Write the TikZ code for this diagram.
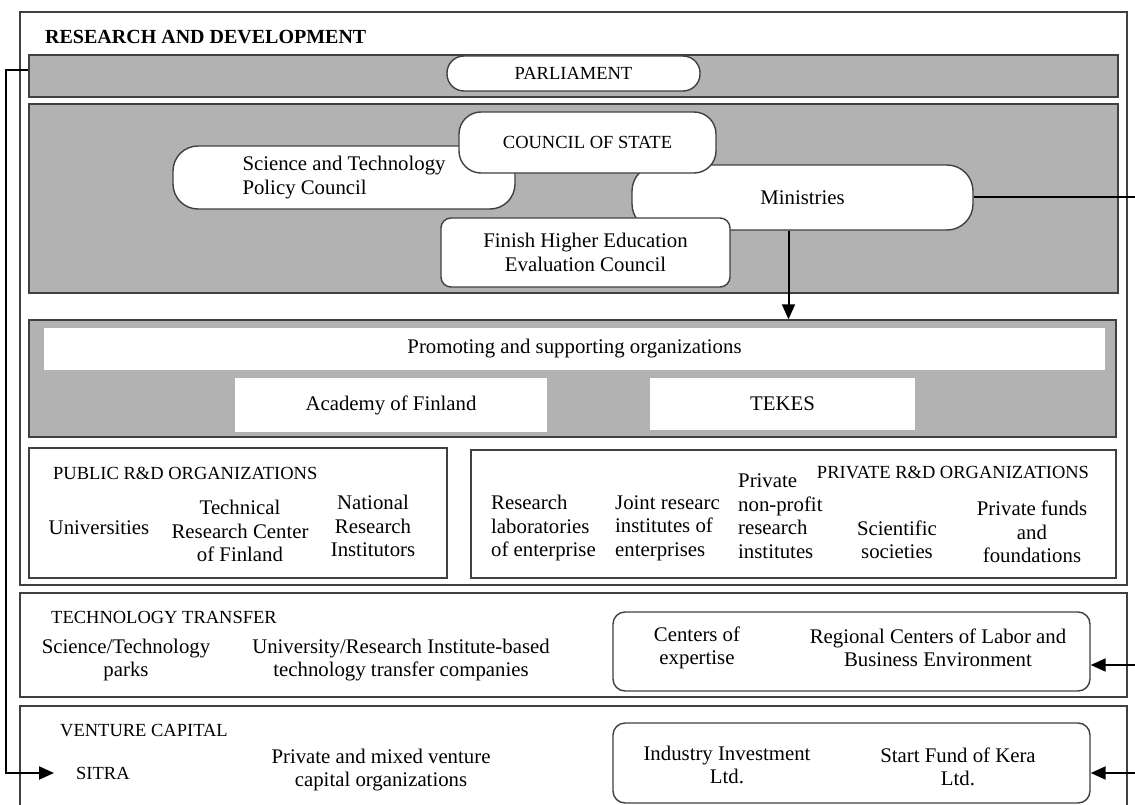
\documentclass[tikz,border=0pt]{standalone}
\usepackage{fontspec}
\setmainfont{Liberation Serif}
\usetikzlibrary{arrows.meta}

\begin{document}
\begin{tikzpicture}[x=1pt,y=-1pt,
  boxframe/.style={draw=black!75,line width=1.4pt,inner sep=0pt},
  band/.style={boxframe,fill=black!30},
  pill/.style={boxframe,fill=white,rounded corners=#1},
  strip/.style={fill=white,inner sep=0pt},
  txt/.style={font=\fontsize{20.8}{23.5}\selectfont,align=center,inner sep=0pt},
  caps/.style={font=\fontsize{18.5}{20}\selectfont,inner sep=0pt},
  arr/.style={-{Triangle[length=15pt,width=13pt]},line width=2pt}]
  \useasboundingbox (0,0) rectangle (1135,805);
  \clip (0,0) rectangle (1135,805);
  \coordinate (redge) at (1135,0);

  \node[boxframe,minimum width=1107,minimum height=573] (rd) at (573.5,298.5) {};
  \node[txt,font=\fontsize{20}{23}\selectfont\bfseries,anchor=west] (rdtitle) at (45,37) {RESEARCH AND DEVELOPMENT};

  \node[band,minimum width=1089,minimum height=42] (pband) at (573.5,76) {};
  \node[pill=17pt,caps,minimum width=253,minimum height=35] (parl) at (573.5,73.5) {PARLIAMENT};

  \node[band,minimum width=1089,minimum height=189] (cband) at (573.5,198.5) {};
  \node[pill=25pt,txt,align=left,minimum width=342,minimum height=63] (stpc) at (344,177.5) {Science and Technology\\Policy Council};
  \node[pill=26pt,txt,minimum width=341,minimum height=65] (min) at (802.5,197.5) {Ministries};
  \node[pill=10pt,txt,minimum width=289,minimum height=69] (fhe) at (585.5,252.5) {Finish Higher Education\\Evaluation Council};
  \node[pill=22pt,caps,minimum width=257,minimum height=61] (cos) at (587.5,142.5) {COUNCIL OF STATE};

  \node[band,minimum width=1087,minimum height=117] (sband) at (572.5,378.5) {};
  \node[strip,txt,minimum width=1061,minimum height=42] (promo) at (574.5,349) {Promoting and supporting organizations};
  \node[strip,txt,minimum width=312,minimum height=54] (aof) at (391,405) {Academy of Finland};
  \node[strip,txt,minimum width=265,minimum height=52] (tekes) at (782.5,404) {TEKES};

  \node[boxframe,minimum width=418,minimum height=130] (pub) at (238,513) {};
  \node[caps,anchor=west] (publbl) at (53,473) {PUBLIC R\&D ORGANIZATIONS};
  \node[txt] (univ) at (99,528) {Universities};
  \node[txt] (trc) at (240,531) {Technical\\Research Center\\of Finland};
  \node[txt] (nri) at (373,526) {National\\Research\\Institutors};

  \node[boxframe,minimum width=645,minimum height=128] (priv) at (793.5,514) {};
  \node[caps] (privlbl) at (953,472) {PRIVATE R\&D ORGANIZATIONS};
  \node[txt,align=left,anchor=west] (rle) at (491,528) {Research\\laboratories\\of enterprise};
  \node[txt,align=left,anchor=west] (jri) at (615,528) {Joint researc\\institutes of\\enterprises};
  \node[txt,align=left,anchor=west] (pnp) at (738,516) {Private\\non-profit\\research\\institutes};
  \node[txt] (ssoc) at (897,540) {Scientific\\societies};
  \node[txt] (pff) at (1032,532) {Private funds\\and\\foundations};

  \node[boxframe,minimum width=1107,minimum height=104] (tt) at (573.5,645) {};
  \node[caps,anchor=west] (ttlbl) at (51,617) {TECHNOLOGY TRANSFER};
  \node[txt] (stp) at (126,660) {Science/Technology\\parks};
  \node[txt] (urt) at (401,660) {University/Research Institute-based\\technology transfer companies};
  \node[pill=12pt,minimum width=477,minimum height=79] (ttpub) at (851.5,651.5) {};
  \node[txt] (coe) at (697,648) {Centers of\\expertise};
  \node[txt] (rcl) at (938,648) {Regional Centers of Labor and\\Business Environment};

  \node[boxframe,minimum width=1107,minimum height=114] (vc) at (573.5,763) {};
  \node[caps,anchor=west] (vclbl) at (60,731) {VENTURE CAPITAL};
  \node[caps,anchor=west] (sitra) at (76,773) {SITRA};
  \node[txt] (pmv) at (381,770) {Private and mixed venture\\capital organizations};
  \node[pill=12pt,minimum width=477,minimum height=80] (vcpub) at (851.5,763) {};
  \node[txt] (iil) at (727,765) {Industry Investment\\Ltd.};
  \node[txt] (sfk) at (958,767) {Start Fund of Kera\\Ltd.};

  \coordinate (mdown) at ([xshift=-14pt]min.south);
  \draw[arr] (mdown) -- (mdown |- sband.north);
  \draw[line width=2pt] (min.east) -- (min.east -| redge);
  \draw[arr] ([yshift=6pt]pband.west) -- ++(-22,0) |- ([xshift=-22pt]sitra.west);
  \coordinate (ttin) at (1135,665);
  \draw[arr] (ttin) -- (ttin -| ttpub.east);
  \coordinate (vcin) at (1135,773);
  \draw[arr] (vcin) -- (vcin -| vcpub.east);
\end{tikzpicture}
\end{document}
